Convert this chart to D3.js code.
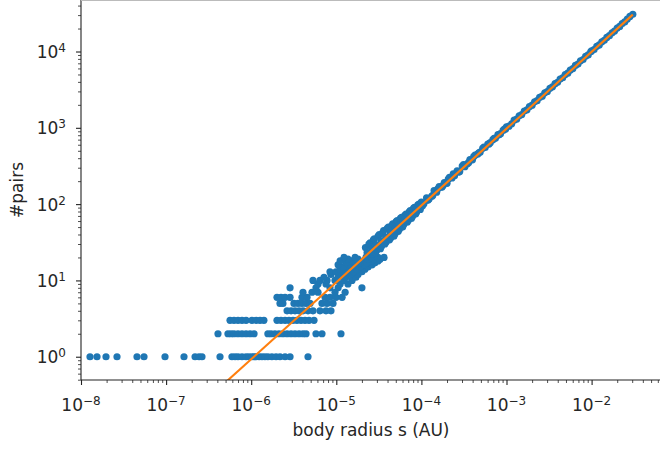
<!DOCTYPE html>
<html><head><meta charset="utf-8">
<script src="https://cdn.jsdelivr.net/npm/d3@7"></script>
<style>body{margin:0;background:#fff}svg{display:block}</style>
</head><body>
<script>
// ---------- data ----------
// rows of small integer pair counts
const lowCounts = [1, 2, 3];
const lowRadii = [
  [1.276e-8,1.542e-8,1.967e-8,2.649e-8,4.55e-8,5.5e-8,9.71e-8,1.623e-7,2.19e-7,2.44e-7,2.64e-7,4.3e-7,
   5.94e-7,6.46e-7,7.0e-7,7.8e-7,8.7e-7,9.4e-7,1.02e-6,1.08e-6,1.14e-6,1.24e-6,1.34e-6,1.45e-6,1.57e-6,
   1.75e-6,1.96e-6,2.18e-6,2.5e-6,2.86e-6,4.65e-6],
  [4.07e-7,5.33e-7,5.79e-7,6.28e-7,7.0e-7,7.8e-7,8.7e-7,9.7e-7,1.08e-6,1.57e-6,1.71e-6,1.9e-6,2.12e-6,
   2.36e-6,2.64e-6,2.94e-6,3.27e-6,3.65e-6,4.06e-6,4.41e-6,5.77e-6,6.79e-6,1.135e-5],
  [5.64e-7,6.28e-7,7.0e-7,7.8e-7,8.7e-7,1.02e-6,1.14e-6,1.27e-6,1.41e-6,2.01e-6,2.24e-6,2.5e-6,2.78e-6,
   3.1e-6,3.45e-6,3.85e-6,4.29e-6,4.78e-6,5.47e-6]
];
// scattered cloud, counts 4..20
const cloudCounts = [4,5,6,7,8,9,10,11,12,13,14,15,16,17,18,19,20];
const cloudRadii = [
  [2.64e-6,2.94e-6,3.27e-6,3.65e-6,4.06e-6,4.65e-6,5.32e-6,6.43e-6,7.57e-6,8.66e-6],
  [2.18e-6,2.36e-6,3.18e-6,3.55e-6,3.95e-6,4.41e-6,4.91e-6,6.79e-6,7.78e-6,9.15e-6],
  [2.01e-6,2.24e-6,2.5e-6,2.86e-6,3.95e-6,4.53e-6,7.37e-6,8.43e-6,9.92e-6,1.17e-5],
  [4.06e-6,5.18e-6,6.1e-6,9.65e-6,1.27e-5],
  [2.86e-6,5.77e-6,8.43e-6,1.05e-5,2.0e-5],
  [6.1e-6,7.57e-6,1.11e-5,1.37e-5],
  [5.32e-6,6.43e-6,7.78e-6,9.65e-6,1.23e-5,1.53e-5],
  [7.17e-6,1.05e-5,1.3e-5,1.7e-5],
  [8.66e-6,1.17e-5,1.45e-5,1.8e-5],
  [8.43e-6,9.92e-6,1.23e-5,1.61e-5,2.0e-5],
  [1.11e-5,1.37e-5,1.75e-5,2.17e-5],
  [1.2e-5,1.53e-5,1.9e-5,2.36e-5],
  [1.05e-5,1.45e-5,1.7e-5,2.12e-5,2.63e-5],
  [1.3e-5,1.9e-5,2.36e-5,2.85e-5],
  [1.11e-5,1.53e-5,2.12e-5,2.56e-5,3.09e-5],
  [1.37e-5,1.8e-5,2.77e-5,3.26e-5],
  [1.23e-5,1.66e-5,2.23e-5,3.09e-5,3.64e-5]
];
// band along the power law
const bandRadiusA = [2.2e-5,2.27e-5,2.35e-5,2.42e-5,2.5e-5,2.58e-5,2.65e-5,2.73e-5,2.8e-5,2.9e-5,3.0e-5,3.1e-5,
  3.2e-5,3.3e-5,3.4e-5,3.5e-5,3.6e-5,3.72e-5,3.85e-5,3.97e-5,4.1e-5,4.22e-5,4.35e-5,4.47e-5,4.6e-5,4.75e-5,
  4.9e-5,5.05e-5,5.2e-5,5.35e-5,5.5e-5,5.67e-5,5.85e-5,6.02e-5,6.2e-5,6.4e-5,6.6e-5,6.8e-5,7.0e-5,7.2e-5,
  7.4e-5,7.62e-5,7.85e-5,8.07e-5,8.3e-5,8.55e-5,8.8e-5,9.1e-5,9.4e-5,9.7e-5];
const bandPairsA = [27,17,19,30,31,20,22,34,35,23,25,38,40,26,28,42,45,30,32,48,50,34,36,52,55,38,
  41,59,61,44,47,65,67,50,54,71,74,58,61,79,82,65,69,88,91,74,79,98,100,85];
const bandRadiusA2 = [2.3e-5,2.6e-5,2.95e-5,3.35e-5,3.8e-5,4.3e-5,4.85e-5,5.45e-5,6.1e-5,6.9e-5,7.75e-5,8.7e-5,9.6e-5];
const bandPairsA2 = [23,26,29,33,37,42,47,53,59,67,75,84,93];
const bandRadiusB = [1.0e-4,1.03e-4,1.07e-4,1.15e-4,1.19e-4,1.23e-4,1.32e-4,1.36e-4,1.41e-4,1.51e-4,1.56e-4,
  1.62e-4,1.74e-4,1.8e-4,1.86e-4,2.0e-4,2.07e-4,2.14e-4,2.29e-4,2.37e-4,2.45e-4,2.63e-4,2.72e-4,2.82e-4,
  3.02e-4,3.13e-4,3.24e-4,3.47e-4,3.6e-4,3.72e-4,3.98e-4,4.12e-4,4.27e-4,4.57e-4,4.73e-4,4.9e-4,5.25e-4,
  5.43e-4,5.62e-4,6.03e-4,6.24e-4,6.46e-4,6.92e-4,7.16e-4,7.41e-4,7.94e-4,8.22e-4,8.51e-4,9.12e-4,9.44e-4,9.77e-4];
const bandPairsB = [106,95,101,121,112,117,126,130,150,143,159,170,166,176,192,187,212,225,220,250,236,272,262,268,
  315,330,309,338,352,384,381,420,438,452,470,480,538,560,553,610,615,641,700,725,732,812,810,838,925,960,965];
const bandRadiusC = [1.0e-3,1.07e-3,1.15e-3,1.23e-3,1.32e-3,1.41e-3,1.51e-3,1.62e-3,1.74e-3,1.86e-3,2.0e-3,
  2.14e-3,2.29e-3,2.45e-3,2.63e-3,2.82e-3,3.02e-3,3.24e-3,3.47e-3,3.72e-3,3.98e-3,4.27e-3,4.57e-3,4.9e-3,
  5.25e-3,5.62e-3,6.03e-3,6.46e-3,6.92e-3,7.41e-3,7.94e-3,8.51e-3,9.12e-3,9.77e-3];
const bandPairsC = [1030,1050,1130,1260,1300,1440,1490,1660,1720,1890,1980,2190,2270,2500,2600,2880,2990,3300,
  3440,3790,3940,4350,4530,4990,5200,5720,5970,6570,6850,7540,7860,8670,9030,9930];
const bandRadiusD = [1.0e-2,1.07e-2,1.15e-2,1.23e-2,1.32e-2,1.41e-2,1.51e-2,1.62e-2,1.74e-2,1.86e-2,2.0e-2,
  2.14e-2,2.29e-2,2.45e-2,2.63e-2,2.82e-2,3.05e-2];
const bandPairsD = [10200,10600,11700,12200,13400,14000,15300,16100,17600,18500,20300,21300,23200,24400,
  26600,28800,30800];
// fitted power law  #pairs = fitA * s^fitB
const fitA = 1.023e6, fitB = 1.007;
const xTickExp = [-8,-7,-6,-5,-4,-3,-2];
const yTickExp = [0,1,2,3,4];
const xLabel = "body radius s (AU)", yLabel = "#pairs";

// ---------- assemble ----------
const pts = [];
lowCounts.forEach((c,i)=>lowRadii[i].forEach(r=>pts.push([r,c])));
cloudCounts.forEach((c,i)=>cloudRadii[i].forEach(r=>pts.push([r,c])));
[[bandRadiusA,bandPairsA],[bandRadiusA2,bandPairsA2],[bandRadiusB,bandPairsB],[bandRadiusC,bandPairsC],[bandRadiusD,bandPairsD]]
  .forEach(([R,P])=>R.forEach((r,i)=>pts.push([r,P[i]])));

const W=660,H=449, L=81, R=661, T=0, B=380;
const font="DejaVu Sans, Verdana, sans-serif";
const x = d3.scaleLog().domain([1e-8, Math.pow(10,-8+(R-L)/85.1)]).range([L,R]);
const y = d3.scaleLog().domain([Math.pow(10,-0.305), Math.pow(10,4.675)]).range([B,T]);

const svg = d3.select("body").append("svg").attr("width",W).attr("height",H)
  .style("font-family",font);
svg.append("defs").append("clipPath").attr("id","clip").append("rect")
  .attr("x",L).attr("y",T).attr("width",R-L).attr("height",B-T);

const plot = svg.append("g").attr("clip-path","url(#clip)");
plot.selectAll("circle").data(pts).join("circle")
  .attr("cx",d=>x(d[0])).attr("cy",d=>y(d[1])).attr("r",3.6).attr("fill","#1f77b4");
const rMin = d3.min(pts,d=>d[0]), rMax = d3.max(pts,d=>d[0]);
const fitPts = [rMin, rMax].map(r=>[r, fitA*Math.pow(r,fitB)]);
plot.append("path").datum(fitPts)
  .attr("d", d3.line().x(d=>x(d[0])).y(d=>y(d[1])))
  .attr("fill","none").attr("stroke","#ff7f0e").attr("stroke-width",2.1);

// ticks
const xMajor = xTickExp.map(e=>Math.pow(10,e));
const xMinor = [];
for (let e=-8;e<=-1;e++) for (let m=2;m<=9;m++){const v=m*Math.pow(10,e); if (v<x.domain()[1]) xMinor.push(v);}
const yMajor = yTickExp.map(e=>Math.pow(10,e));
const yMinor = [];
for (let e=-1;e<=4;e++) for (let m=2;m<=9;m++){const v=m*Math.pow(10,e); if (v>y.domain()[0]&&v<y.domain()[1]) yMinor.push(v);}

function styleAxis(g,w){ g.select(".domain").remove(); g.selectAll(".tick line").attr("stroke","#222").attr("stroke-width",w); g.selectAll(".tick text").remove(); }
svg.append("g").attr("transform",`translate(0,${B})`).call(d3.axisBottom(x).tickValues(xMinor).tickSize(3).tickFormat(()=>"")).call(g=>styleAxis(g,0.8));
svg.append("g").attr("transform",`translate(0,${B})`).call(d3.axisBottom(x).tickValues(xMajor).tickSize(5).tickFormat(()=>"")).call(g=>styleAxis(g,1.1));
svg.append("g").attr("transform",`translate(${L},0)`).call(d3.axisLeft(y).tickValues(yMinor).tickSize(3).tickFormat(()=>"")).call(g=>styleAxis(g,0.8));
svg.append("g").attr("transform",`translate(${L},0)`).call(d3.axisLeft(y).tickValues(yMajor).tickSize(5).tickFormat(()=>"")).call(g=>styleAxis(g,1.1));

function powLabel(sel, e){
  sel.append("tspan").text("10");
  sel.append("tspan").attr("dy",-6).attr("font-size",12).text(e<0?"\u2212"+(-e):String(e));
}
xTickExp.forEach(e=>{
  const t=svg.append("text").attr("x",x(Math.pow(10,e))).attr("y",411).attr("text-anchor","middle")
    .attr("font-size",17).attr("fill","#262626");
  powLabel(t,e);
});
yTickExp.forEach(e=>{
  const t=svg.append("text").attr("x",66).attr("y",y(Math.pow(10,e))+6.6).attr("text-anchor","end")
    .attr("font-size",17).attr("fill","#262626");
  powLabel(t,e);
});

// spines
svg.append("line").attr("x1",L).attr("x2",R).attr("y1",B).attr("y2",B).attr("stroke","#222").attr("stroke-width",1.1);
svg.append("line").attr("x1",L).attr("x2",L).attr("y1",0).attr("y2",B).attr("stroke","#222").attr("stroke-width",1.1);
svg.append("line").attr("x1",L).attr("x2",R).attr("y1",0.5).attr("y2",0.5).attr("stroke","#bbb").attr("stroke-width",1);

// axis labels
svg.append("text").attr("x",(L+R)/2).attr("y",435.5).attr("text-anchor","middle").attr("font-size",17)
  .attr("fill","#262626").text(xLabel);
svg.append("text").attr("transform",`translate(23,${(T+B)/2}) rotate(-90)`).attr("text-anchor","middle")
  .attr("font-size",17).attr("fill","#262626").text(yLabel);
</script>
</body></html>
